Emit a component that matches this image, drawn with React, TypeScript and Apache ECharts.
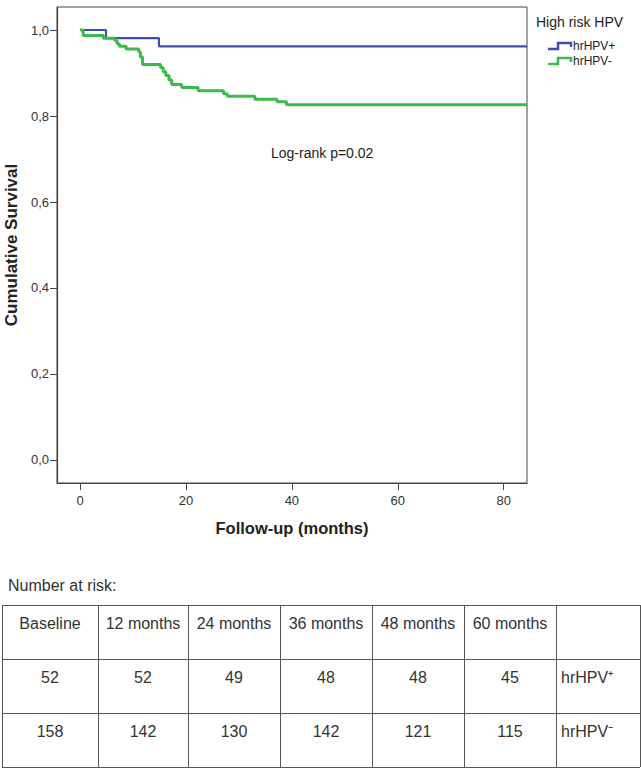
import React, { useEffect, useRef } from "react";
import * as echarts from "echarts";

// ---- data ----
const xTicks = [0, 20, 40, 60, 80];
const yTicks = [0, 0.2, 0.4, 0.6, 0.8, 1.0];
const seriesNames = ["hrHPV+", "hrHPV-"];
const legendTitle = "High risk HPV";
const annotation = "Log-rank p=0.02";
const xTitle = "Follow-up (months)";
const yTitle = "Cumulative Survival";

const hrPosTimes = [0, 4.9, 14.9, 84.4];
const hrPosSurv = [1.0, 0.981, 0.962, 0.962];

const hrNegTimes = [0, 0.6, 4.4, 6.6, 7.0, 7.4, 8.7, 11.1, 11.4, 11.8, 15.2, 15.7, 16.2, 16.8, 17.3, 19.2, 22.3, 27.1, 27.8, 33.0, 37.2, 39.0, 84.4];
const hrNegSurv = [1.0, 0.987, 0.981, 0.975, 0.968, 0.962, 0.956, 0.949, 0.937, 0.92, 0.913, 0.903, 0.894, 0.884, 0.873, 0.866, 0.859, 0.852, 0.846, 0.839, 0.833, 0.826, 0.826];

const riskTitle = "Number at risk:";
const riskHeader = ["Baseline", "12 months", "24 months", "36 months", "48 months", "60 months", ""];
const riskPos = [52, 52, 49, 48, 48, 45];
const riskNeg = [158, 142, 130, 142, 121, 115];
const riskLabels = ["hrHPV\u207A", "hrHPV\u207B"];

const COLORS = ["#3d4fae", "#3dba4b"];

function buildTable(): any[] {
  const els: any[] = [];
  const colX = [2, 98, 188, 280, 372, 464, 556, 640];
  const rowY = [605, 659, 713, 767];
  const font = '16px "Liberation Sans", Arial, sans-serif';
  els.push({
    type: "text",
    left: 8,
    top: 577,
    style: { text: riskTitle, font, fill: "#333" },
  });
  rowY.forEach((y) =>
    els.push({
      type: "line",
      shape: { x1: colX[0], y1: y + 0.5, x2: colX[colX.length - 1], y2: y + 0.5 },
      style: { stroke: "#555", lineWidth: 1 },
    })
  );
  colX.forEach((x) =>
    els.push({
      type: "line",
      shape: { x1: x + 0.5, y1: rowY[0], x2: x + 0.5, y2: rowY[rowY.length - 1] },
      style: { stroke: "#555", lineWidth: 1 },
    })
  );
  const rows: string[][] = [
    riskHeader,
    [...riskPos.map(String), riskLabels[0]],
    [...riskNeg.map(String), riskLabels[1]],
  ];
  rows.forEach((row, r) => {
    row.forEach((txt, c) => {
      if (!txt) return;
      const last = c === colX.length - 2;
      els.push({
        type: "text",
        x: last ? colX[c] + 5 : (colX[c] + colX[c + 1]) / 2,
        y: rowY[r] + 18,
        style: {
          text: txt,
          font,
          fill: "#333",
          align: last ? "left" : "center",
          verticalAlign: "middle",
        },
      });
    });
  });
  return els;
}

function buildLegend(): any[] {
  const els: any[] = [];
  els.push({
    type: "text",
    x: 536,
    y: 22,
    style: {
      text: legendTitle,
      font: '14px "Liberation Sans", Arial, sans-serif',
      fill: "#222",
      verticalAlign: "middle",
    },
  });
  seriesNames.forEach((name, i) => {
    const yb = 49 + i * 15;
    els.push({
      type: "polyline",
      shape: { points: [[548, yb], [558, yb], [558, yb - 6], [571, yb - 6], [571, yb - 2]] },
      style: { stroke: COLORS[i], lineWidth: 2.5, fill: null },
    });
    els.push({
      type: "text",
      x: 573,
      y: yb - 3,
      style: {
        text: name,
        font: '12px "Liberation Sans", Arial, sans-serif',
        fill: "#222",
        verticalAlign: "middle",
      },
    });
  });
  els.push({
    type: "text",
    x: 271,
    y: 153,
    style: {
      text: annotation,
      font: '14px "Liberation Sans", Arial, sans-serif',
      fill: "#222",
      verticalAlign: "middle",
    },
  });
  return els;
}

export default function App() {
  const ref = useRef<HTMLDivElement>(null);
  useEffect(() => {
    if (!ref.current) return;
    const chart = echarts.init(ref.current, null, { renderer: "svg" });
    const axisColor = "#444";
    chart.setOption({
      animation: false,
      backgroundColor: "#fff",
      grid: {
        left: 57,
        right: 114,
        top: 7,
        bottom: 285,
        show: true,
        borderColor: axisColor,
        borderWidth: 1,
        containLabel: false,
        outerBoundsMode: "none",
      },
      xAxis: {
        type: "value",
        min: -4.35,
        max: 84.4,
        name: xTitle,
        nameLocation: "middle",
        nameGap: 36,
        nameTextStyle: {
          fontFamily: '"Liberation Sans", Arial, sans-serif',
          fontWeight: "bold",
          fontSize: 16.5,
          color: "#222",
        },
        axisLine: { show: true, onZero: false, lineStyle: { color: axisColor, width: 1.2 } },
        axisTick: { show: true, length: 7, customValues: xTicks, lineStyle: { color: axisColor } },
        axisLabel: {
          customValues: xTicks,
          margin: 11,
          fontSize: 13,
          color: "#333",
          fontFamily: '"Liberation Sans", Arial, sans-serif',
        },
        splitLine: { show: false },
      },
      yAxis: {
        type: "value",
        min: -0.0535,
        max: 1.0535,
        name: yTitle,
        nameLocation: "middle",
        nameGap: 22,
        nameTextStyle: {
          fontFamily: '"Liberation Sans", Arial, sans-serif',
          fontWeight: "bold",
          fontSize: 17,
          color: "#222",
        },
        axisLine: { show: true, onZero: false, lineStyle: { color: axisColor, width: 1.2 } },
        axisTick: { show: true, length: 7, customValues: yTicks, lineStyle: { color: axisColor } },
        axisLabel: {
          customValues: yTicks,
          margin: 8,
          fontSize: 13,
          color: "#333",
          fontFamily: '"Liberation Sans", Arial, sans-serif',
          formatter: (v: number) => v.toFixed(1).replace(".", ","),
        },
        splitLine: { show: false },
      },
      series: [
        {
          name: seriesNames[0],
          type: "line",
          step: "end",
          showSymbol: false,
          data: hrPosTimes.map((t, i) => [t, hrPosSurv[i]]),
          lineStyle: { color: COLORS[0], width: 2.2 },
          itemStyle: { color: COLORS[0] },
          z: 2,
        },
        {
          name: seriesNames[1],
          type: "line",
          step: "end",
          showSymbol: false,
          data: hrNegTimes.map((t, i) => [t, hrNegSurv[i]]),
          lineStyle: { color: COLORS[1], width: 3 },
          itemStyle: { color: COLORS[1] },
          z: 3,
        },
      ],
      graphic: [...buildLegend(), ...buildTable()],
    });
    return () => chart.dispose();
  }, []);
  return (
    <div
      ref={ref}
      style={{ position: "fixed", left: 0, top: 0, width: 641, height: 768, background: "#fff" }}
    />
  );
}
